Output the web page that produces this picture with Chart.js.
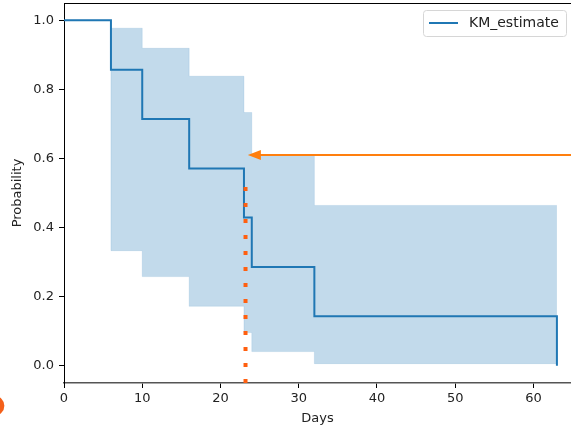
<!DOCTYPE html>
<html lang="en">
<head>
  <meta charset="UTF-8">
  <title>KM estimate</title>
  <script src="https://cdn.jsdelivr.net/npm/chart.js"></script>
  <style>
    body { margin: 0; background: #fff; }
    #wrap { width: 571px; height: 427px; }
  </style>
</head>
<body>
  <div id="wrap"><canvas id="km"></canvas></div>

  <script>
    // survival curve (times in days)
    const kmTimes = [0, 6, 10, 16, 23, 24, 32, 63];
    const kmSurv = [1.0, 0.857, 0.714, 0.571, 0.429, 0.286, 0.143, 0.0];
    // confidence band
    const ciTimes = [0, 6, 10, 16, 23, 24, 32, 63];
    const ciUpper = [1.0, 0.977, 0.919, 0.838, 0.733, 0.609, 0.464, 0.464];
    const ciLower = [1.0, 0.333, 0.258, 0.172, 0.096, 0.041, 0.006, 0.006];
    // annotations
    const medianX = [23.2, 23.2];
    const medianY = [-0.05, 0.52];
    const arrowY = 0.61;
    const arrowFromX = 66;
    const arrowTipX = 23.5;
    const markerPt = { x: -8.9, y: -0.116 };

    const xTicks = [0, 10, 20, 30, 40, 50, 60];
    const yTicks = [0, 0.2, 0.4, 0.6, 0.8, 1.0];

    const pts = (xs, ys) => xs.map((x, i) => ({ x: x, y: ys[i] }));
    const blue = '#1f77b4';
    const band = 'rgba(31,119,180,0.27)';
    const font = { family: 'DejaVu Sans', size: 13 };

    const extras = {
      id: 'extras',
      afterDatasetsDraw(chart) {
        const { ctx, chartArea, scales } = chart;
        const x = scales.x, y = scales.y;
        ctx.save();
        // top frame line
        ctx.strokeStyle = '#000';
        ctx.lineWidth = 1;
        ctx.beginPath();
        ctx.moveTo(chartArea.left, chartArea.top + 0.5);
        ctx.lineTo(chartArea.right, chartArea.top + 0.5);
        ctx.stroke();

        // arrow
        const ay = y.getPixelForValue(arrowY);
        const tip = x.getPixelForValue(arrowTipX);
        ctx.strokeStyle = '#ff7f0e';
        ctx.fillStyle = '#ff7f0e';
        ctx.lineWidth = 2;
        ctx.beginPath();
        ctx.moveTo(x.getPixelForValue(arrowFromX), ay);
        ctx.lineTo(tip + 10, ay);
        ctx.stroke();
        ctx.beginPath();
        ctx.moveTo(tip, ay);
        ctx.lineTo(tip + 13, ay - 5);
        ctx.lineTo(tip + 13, ay + 5);
        ctx.closePath();
        ctx.fill();

        // legend
        const lx = 423, ly = 10, lw = 143, lh = 26;
        ctx.fillStyle = 'rgba(255,255,255,0.85)';
        ctx.strokeStyle = '#d6d6d6';
        ctx.lineWidth = 1;
        ctx.beginPath();
        ctx.roundRect(lx + 0.5, ly + 0.5, lw, lh, 3);
        ctx.fill();
        ctx.stroke();
        ctx.strokeStyle = blue;
        ctx.lineWidth = 2;
        ctx.beginPath();
        ctx.moveTo(lx + 6, ly + 13);
        ctx.lineTo(lx + 35, ly + 13);
        ctx.stroke();
        ctx.fillStyle = '#222';
        ctx.font = '14px "DejaVu Sans"';
        ctx.textBaseline = 'middle';
        ctx.fillText('KM_estimate', lx + 46, ly + 13);
        ctx.restore();
      },
      afterDraw(chart) {
        const { ctx, scales } = chart;
        ctx.save();
        ctx.fillStyle = '#f4601a';
        ctx.beginPath();
        ctx.arc(scales.x.getPixelForValue(markerPt.x), scales.y.getPixelForValue(markerPt.y), 10, 0, Math.PI * 2);
        ctx.fill();
        ctx.restore();
      }
    };

    new Chart(document.getElementById('km'), {
      type: 'line',
      data: {
        datasets: [
          {
            label: 'median',
            data: pts(medianX, medianY),
            borderColor: '#ff5f0f',
            borderWidth: 4,
            borderDash: [4, 12],
            borderCapStyle: 'butt',
            pointRadius: 0,
            fill: false,
            order: 0
          },
          {
            label: 'KM_estimate',
            data: pts(kmTimes, kmSurv),
            borderColor: blue,
            borderWidth: 2,
            stepped: true,
            pointRadius: 0,
            fill: false,
            order: 1
          },
          {
            label: 'upper',
            data: pts(ciTimes, ciUpper),
            borderColor: 'rgba(31,119,180,0.12)',
            borderWidth: 1,
            backgroundColor: band,
            stepped: true,
            pointRadius: 0,
            fill: '+1',
            order: 2
          },
          {
            label: 'lower',
            data: pts(ciTimes, ciLower),
            borderColor: 'rgba(31,119,180,0.12)',
            borderWidth: 1,
            stepped: true,
            pointRadius: 0,
            fill: false,
            order: 3
          }
        ]
      },
      options: {
        responsive: true,
        maintainAspectRatio: false,
        animation: false,
        layout: { padding: { top: 3, right: 0, left: 0, bottom: 0 } },
        plugins: {
          legend: { display: false },
          tooltip: { enabled: false }
        },
        scales: {
          x: {
            type: 'linear',
            min: 0,
            max: 64.8,
            afterBuildTicks: s => { s.ticks = xTicks.map(v => ({ value: v })); },
            afterFit: s => { s.height = 44; s.paddingLeft = 0; s.paddingRight = 0; },
            grid: { drawOnChartArea: false, tickLength: 5, color: '#000' },
            border: { color: '#555', width: 1.5 },
            ticks: { color: '#222', font: font, padding: 3, maxRotation: 0 },
            title: { display: true, text: 'Days', color: '#222', font: font, padding: { top: 0, bottom: 1 } }
          },
          y: {
            type: 'linear',
            min: -0.05,
            max: 1.05,
            afterBuildTicks: s => { s.ticks = yTicks.map(v => ({ value: v })); },
            afterFit: s => { s.width = 64; s.paddingTop = 0; s.paddingBottom = 0; },
            grid: { drawOnChartArea: false, tickLength: 5, color: '#000' },
            border: { color: '#000', width: 1 },
            ticks: { color: '#222', font: font, padding: 5, callback: v => v.toFixed(1) },
            title: { display: true, text: 'Probability', color: '#222', font: font, padding: { top: 10, bottom: 0 } }
          }
        }
      },
      plugins: [extras]
    });
  </script>
</body>
</html>
